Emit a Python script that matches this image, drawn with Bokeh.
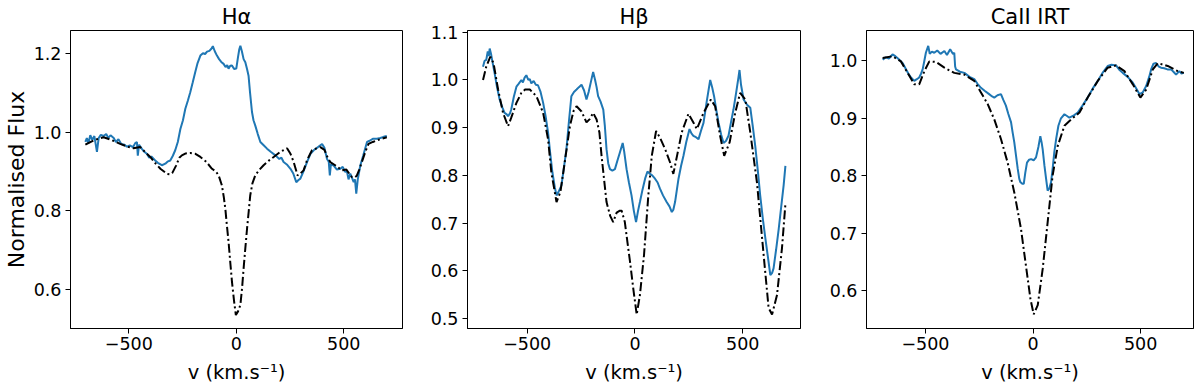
from bokeh.plotting import figure
from bokeh.layouts import row
from bokeh.models import Range1d, FixedTicker, PrintfTickFormatter
from bokeh.embed import file_html
from bokeh.resources import INLINE

FONT = "DejaVu Sans"
BLUE = "#1f77b4"

titles = ["Hα", "Hβ", "CaII IRT"]
xlabel = "v (km.s⁻¹)"
ylabel = "Normalised Flux"
xticks = [-500, 0, 500]
xtick_labels = {-500: "−500", 0: "0", 500: "500"}

# ---------------- H alpha ----------------
ha_obs_v = [-702, -695, -688, -679, -670, -660, -648, -640, -630, -617, -605, -595, -585, -570, -560, -548,
            -535, -520, -509, -495, -480, -470, -462, -458, -452, -440, -428, -416, -405, -395, -377, -365,
            -346, -330, -320, -307, -295, -284, -272, -260, -248, -237, -225, -214, -203, -191, -180, -167,
            -155, -145, -136, -125, -115, -109, -100, -90, -80, -70, -59, -50, -42, -36, -28, -20, -10, 0,
            8, 14, 19, 26, 34, 42, 50, 57, 64, 73, 80, 88, 100, 112, 125, 143, 160, 182, 200, 210, 220, 235,
            252, 265, 279, 288, 298, 312, 329, 345, 360, 380, 399, 410, 422, 430, 435, 440, 453, 468, 484,
            495, 505, 515, 522, 530, 546, 552, 558, 565, 577, 590, 608, 620, 635, 654, 670, 685, 700]
ha_obs_f = [0.975, 0.985, 0.972, 0.992, 0.980, 0.990, 0.950, 0.985, 0.993, 0.990, 0.995, 0.985, 0.992, 0.985,
            0.975, 0.982, 0.970, 0.968, 0.963, 0.966, 0.962, 0.972, 0.975, 0.940, 0.968, 0.958, 0.950, 0.945,
            0.935, 0.938, 0.928, 0.922, 0.916, 0.920, 0.925, 0.928, 0.940, 0.954, 0.975, 1.008, 1.030, 1.059,
            1.080, 1.101, 1.125, 1.152, 1.175, 1.194, 1.200, 1.198, 1.204, 1.206, 1.212, 1.218, 1.205, 1.194,
            1.185, 1.178, 1.173, 1.165, 1.170, 1.161, 1.168, 1.169, 1.160, 1.161, 1.190, 1.210, 1.219, 1.205,
            1.185, 1.177, 1.160, 1.143, 1.100, 1.051, 1.030, 1.017, 0.995, 0.975, 0.968, 0.958, 0.950, 0.941,
            0.932, 0.935, 0.924, 0.918, 0.907, 0.895, 0.873, 0.878, 0.882, 0.900, 0.924, 0.945, 0.954, 0.962,
            0.970, 0.960, 0.932, 0.925, 0.890, 0.918, 0.915, 0.905, 0.907, 0.912, 0.900, 0.899, 0.880, 0.895,
            0.873, 0.880, 0.844, 0.880, 0.916, 0.940, 0.975, 0.978, 0.983, 0.983, 0.985, 0.988, 0.990]
ha_mod_v = [-702, -660, -617, -580, -540, -500, -478, -447, -425, -400, -375, -353, -322, -310, -298, -280,
            -265, -253, -235, -214, -190, -167, -140, -113, -95, -82, -67, -58, -51, -44, -36, -28, -20, -10,
            -2, 8, 19, 27, 34, 42, 50, 58, 65, 75, 88, 105, 127, 150, 174, 205, 236, 252, 267, 285, 298, 313,
            330, 352, 370, 391, 410, 425, 437, 460, 475, 491, 512, 525, 538, 550, 560, 572, 584, 600, 615,
            635, 654, 675, 700]
ha_mod_f = [0.968, 0.980, 0.987, 0.980, 0.970, 0.962, 0.959, 0.962, 0.950, 0.937, 0.920, 0.907, 0.894, 0.893,
            0.896, 0.915, 0.935, 0.941, 0.946, 0.947, 0.945, 0.937, 0.925, 0.907, 0.900, 0.890, 0.865, 0.835,
            0.806, 0.765, 0.722, 0.670, 0.620, 0.570, 0.536, 0.545, 0.562, 0.605, 0.654, 0.705, 0.755, 0.800,
            0.840, 0.870, 0.890, 0.903, 0.916, 0.927, 0.937, 0.950, 0.959, 0.945, 0.924, 0.890, 0.895, 0.903,
            0.930, 0.954, 0.958, 0.962, 0.955, 0.935, 0.924, 0.916, 0.910, 0.903, 0.905, 0.895, 0.886, 0.885,
            0.889, 0.905, 0.924, 0.950, 0.970, 0.975, 0.979, 0.983, 0.987]

# ---------------- H beta ----------------
hb_obs_v = [-705, -698, -690, -683, -678, -674, -668, -662, -651, -640, -628, -615, -605, -595, -589, -580,
            -574, -562, -550, -540, -527, -520, -512, -504, -495, -488, -481, -470, -460, -450, -438, -426,
            -415, -403, -393, -383, -372, -364, -355, -341, -330, -318, -306, -295, -283, -271, -260, -248,
            -236, -225, -215, -205, -194, -185, -178, -171, -160, -147, -140, -132, -124, -116, -105, -93,
            -82, -70, -57, -50, -39, -28, -16, -5, 5, 14, 23, 35, 47, 58, 70, 80, 93, 105, 116, 130, 147, 160,
            171, 178, 186, 202, 214, 225, 238, 253, 262, 271, 283, 295, 306, 318, 333, 349, 358, 367, 378,
            388, 400, 411, 422, 434, 445, 457, 470, 480, 485, 492, 504, 520, 535, 546, 558, 570, 581, 593,
            605, 617, 628, 636, 643, 655, 667, 680, 690, 698]
hb_obs_f = [1.028, 1.040, 1.042, 1.060, 1.050, 1.066, 1.055, 1.040, 1.014, 0.985, 0.959, 0.942, 0.931, 0.928,
            0.924, 0.930, 0.938, 0.965, 0.986, 0.992, 1.000, 0.995, 1.005, 1.010, 1.000, 1.002, 0.993, 0.998,
            0.990, 0.989, 0.975, 0.952, 0.925, 0.889, 0.845, 0.806, 0.775, 0.758, 0.765, 0.779, 0.815, 0.855,
            0.915, 0.966, 0.975, 0.980, 0.985, 0.990, 0.978, 0.959, 0.975, 0.995, 1.017, 1.000, 0.985, 0.966,
            0.955, 0.938, 0.905, 0.855, 0.825, 0.813, 0.810, 0.813, 0.830, 0.848, 0.868, 0.850, 0.813, 0.785,
            0.758, 0.725, 0.702, 0.725, 0.744, 0.770, 0.793, 0.808, 0.803, 0.800, 0.793, 0.785, 0.772, 0.758,
            0.744, 0.735, 0.723, 0.728, 0.744, 0.793, 0.820, 0.841, 0.870, 0.897, 0.888, 0.883, 0.880, 0.876,
            0.893, 0.910, 0.955, 1.000, 0.985, 0.966, 0.935, 0.910, 0.885, 0.868, 0.872, 0.883, 0.910, 0.938,
            0.975, 1.005, 1.021, 0.990, 0.959, 0.948, 0.942, 0.905, 0.862, 0.810, 0.758, 0.710, 0.668, 0.628,
            0.591, 0.595, 0.605, 0.645, 0.688, 0.740, 0.780, 0.820]
hb_mod_v = [-705, -690, -671, -656, -635, -612, -589, -574, -550, -527, -510, -488, -457, -426, -403, -388,
            -364, -346, -326, -302, -285, -271, -248, -225, -210, -194, -178, -165, -155, -143, -132, -115,
            -101, -85, -70, -62, -47, -35, -23, -8, 8, 23, 42, 62, 78, 98, 116, 140, 163, 178, 197, 217, 248,
            271, 287, 318, 352, 372, 395, 414, 439, 465, 488, 512, 535, 566, 597, 620, 636, 659, 682, 698]
hb_mod_f = [1.000, 1.028, 1.049, 1.035, 0.980, 0.931, 0.903, 0.921, 0.952, 0.973, 0.980, 0.980, 0.966, 0.931,
            0.875, 0.806, 0.744, 0.765, 0.827, 0.903, 0.935, 0.945, 0.934, 0.911, 0.918, 0.931, 0.917, 0.890,
            0.841, 0.790, 0.744, 0.715, 0.702, 0.722, 0.726, 0.726, 0.702, 0.660, 0.619, 0.563, 0.508, 0.549,
            0.633, 0.758, 0.841, 0.893, 0.879, 0.855, 0.827, 0.803, 0.845, 0.890, 0.929, 0.911, 0.897, 0.931,
            0.959, 0.945, 0.883, 0.841, 0.869, 0.931, 0.973, 0.959, 0.890, 0.785, 0.633, 0.522, 0.508, 0.549,
            0.647, 0.740]

# ---------------- CaII IRT ----------------
ca_obs_v = [-699, -685, -670, -653, -640, -625, -606, -590, -575, -565, -552, -540, -529, -520, -513, -505,
            -498, -487, -480, -470, -459, -445, -430, -412, -400, -385, -372, -366, -362, -358, -340, -319,
            -295, -273, -258, -242, -225, -204, -190, -180, -165, -149, -138, -126, -115, -102, -95, -87, -79,
            -71, -64, -59, -50, -43, -36, -28, -18, -9, 3, 14, 25, 34, 40, 45, 53, 61, 68, 76, 84, 92, 99, 108,
            118, 130, 146, 158, 169, 190, 208, 230, 254, 278, 301, 325, 347, 365, 386, 400, 417, 440, 464, 480,
            495, 510, 526, 540, 549, 560, 572, 585, 595, 610, 625, 642, 655, 665, 680, 690, 701]
ca_obs_f = [1.002, 1.006, 1.004, 1.011, 1.008, 1.003, 0.996, 0.985, 0.975, 0.970, 0.965, 0.968, 0.971, 0.978,
            0.985, 1.000, 1.014, 1.026, 1.012, 1.016, 1.014, 1.018, 1.012, 1.017, 1.010, 1.020, 1.012, 1.014,
            0.990, 0.985, 0.981, 0.979, 0.972, 0.968, 0.960, 0.953, 0.948, 0.942, 0.938, 0.936, 0.940, 0.942,
            0.932, 0.922, 0.908, 0.893, 0.876, 0.858, 0.835, 0.812, 0.795, 0.789, 0.786, 0.786, 0.805, 0.823,
            0.828, 0.829, 0.827, 0.832, 0.850, 0.869, 0.858, 0.846, 0.818, 0.794, 0.774, 0.778, 0.789, 0.815,
            0.841, 0.865, 0.887, 0.900, 0.907, 0.904, 0.901, 0.905, 0.910, 0.922, 0.936, 0.952, 0.965, 0.980,
            0.991, 0.993, 0.992, 0.985, 0.979, 0.972, 0.962, 0.952, 0.942, 0.945, 0.956, 0.972, 0.985, 0.995,
            0.996, 0.990, 0.988, 0.987, 0.985, 0.985, 0.980, 0.976, 0.982, 0.978, 0.979]
ca_mod_v = [-699, -653, -614, -583, -552, -529, -505, -482, -451, -412, -366, -319, -273, -242, -211, -180,
            -149, -118, -87, -56, -33, -12, 3, 22, 45, 68, 91, 115, 146, 177, 216, 254, 301, 347, 386, 425,
            464, 499, 526, 557, 580, 626, 673, 701]
ca_mod_f = [1.005, 1.008, 0.999, 0.979, 0.959, 0.959, 0.982, 0.999, 0.998, 0.988, 0.979, 0.976, 0.965, 0.945,
            0.925, 0.898, 0.864, 0.823, 0.771, 0.708, 0.644, 0.586, 0.559, 0.575, 0.638, 0.719, 0.800, 0.852,
            0.887, 0.898, 0.910, 0.936, 0.965, 0.988, 0.992, 0.982, 0.959, 0.936, 0.950, 0.985, 0.996, 0.991,
            0.982, 0.979]


def panel(title, xr, yr, yticks, fw, bl, br, vo, fo, vm, fm, show_ylabel=False):
    p = figure(frame_width=fw, frame_height=298,
               x_range=Range1d(*xr), y_range=Range1d(*yr),
               output_backend="svg", toolbar_location=None,
               min_border_left=bl, min_border_right=br,
               min_border_top=29, min_border_bottom=60)
    p.xgrid.visible = False
    p.ygrid.visible = False
    p.outline_line_color = "black"
    p.outline_line_width = 1
    p.background_fill_color = "white"
    p.border_fill_color = "white"

    p.title.text = title
    p.title.text_font = FONT
    p.title.text_font_size = "21px"
    p.title.text_font_style = "normal"
    p.title.text_color = "black"
    p.title.align = "center"
    p.title.standoff = 4

    p.line(vo, fo, line_color=BLUE, line_width=2)
    p.line(vm, fm, line_color="black", line_width=2, line_dash="9 3 2 3")

    p.xaxis.ticker = FixedTicker(ticks=xticks)
    p.xaxis.major_label_overrides = xtick_labels
    p.yaxis.ticker = FixedTicker(ticks=yticks)
    p.yaxis.formatter = PrintfTickFormatter(format="%.1f")
    for ax in (p.xaxis[0], p.yaxis[0]):
        ax.minor_tick_line_color = None
        ax.major_tick_in = 0
        ax.major_tick_out = 5
        ax.major_tick_line_color = "black"
        ax.axis_line_color = "black"
        ax.major_label_text_font = FONT
        ax.major_label_text_font_size = "17.5px"
        ax.major_label_text_color = "black"
        ax.axis_label_text_font = FONT
        ax.axis_label_text_font_style = "normal"
        ax.axis_label_text_color = "black"
    p.xaxis.major_label_standoff = 3
    p.xaxis.axis_label = xlabel
    p.xaxis.axis_label_text_font_size = "19.5px"
    p.xaxis.axis_label_standoff = 8
    p.yaxis.major_label_standoff = 4
    if show_ylabel:
        p.yaxis.axis_label = ylabel
        p.yaxis.axis_label_text_font_size = "22px"
        p.yaxis.axis_label_standoff = 2
    return p


p1 = panel(titles[0], (-771, 773), (0.502, 1.2576), [0.6, 0.8, 1.0, 1.2], 332, 70, 20,
           ha_obs_v, ha_obs_f, ha_mod_v, ha_mod_f, show_ylabel=True)
p2 = panel(titles[1], (-777, 768), (0.4788, 1.1038), [0.5, 0.6, 0.7, 0.8, 0.9, 1.0, 1.1], 333, 45, 21,
           hb_obs_v, hb_obs_f, hb_mod_v, hb_mod_f)
p3 = panel(titles[2], (-774, 746), (0.5344, 1.0527), [0.6, 0.7, 0.8, 0.9, 1.0], 327, 45, 4,
           ca_obs_v, ca_obs_f, ca_mod_v, ca_mod_f)

layout = row(p1, p2, p3)
open("out.html", "w").write(file_html(layout, INLINE))
